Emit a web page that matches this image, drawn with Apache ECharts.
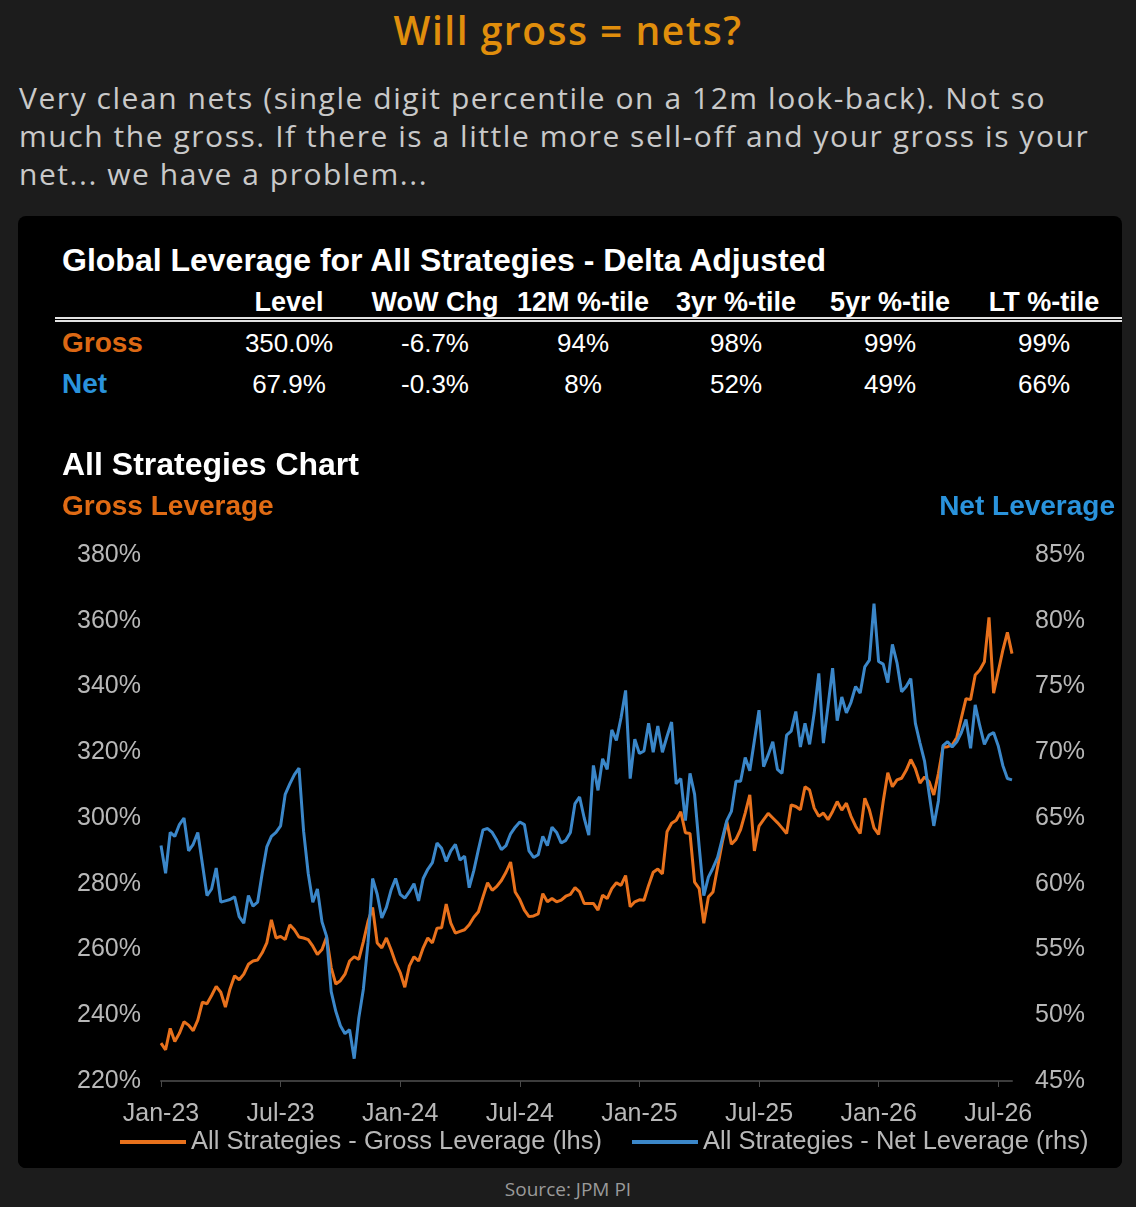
<!DOCTYPE html>
<html>
<head>
<meta charset="utf-8">
<script src="https://cdn.jsdelivr.net/npm/echarts@6/dist/echarts.min.js"></script>
<style>
body{margin:0;background:#1c1c1c;width:1136px;height:1207px;overflow:hidden;position:relative;font-family:'Open Sans',sans-serif;}
#head{position:absolute;left:0;top:10px;width:1136px;text-align:center;color:#e08e0c;font-size:39px;line-height:39px;font-weight:600;letter-spacing:1.5px;}
#intro{position:absolute;left:19px;top:79px;color:#c9c9c9;font-size:30px;line-height:38px;white-space:nowrap;letter-spacing:1.55px;}
#panel{position:absolute;left:18px;top:216px;width:1104px;height:952px;background:#000;border-radius:8px;overflow:hidden;}
.t{position:absolute;font-family:'Liberation Sans',Arial,sans-serif;white-space:nowrap;color:#fff;}
.c{transform:translate(-50%,-50%);}
.l{transform:translate(0,-50%);}
#rule{position:absolute;left:37px;right:0;top:101px;height:1px;border-top:2px solid #e2e2e2;border-bottom:2px solid #e2e2e2;}
#chart{position:absolute;left:0;top:224px;width:1104px;height:728px;}
#src{position:absolute;left:0;top:1178px;width:1136px;text-align:center;color:#9a9a9a;font-size:19px;line-height:22px;}
</style>
</head>
<body>
<div id="head">Will gross = nets?</div>
<div id="intro">Very clean nets (single digit percentile on a 12m look-back). Not so<br>much the gross. If there is a little more sell-off and your gross is your<br>net... we have a problem...</div>
<div id="panel">
  <div id="table"></div>
  <div id="rule"></div>
  <div id="chart"></div>
</div>
<div id="src">Source: JPM PI</div>
<script>
// 表格数据
var tableHeads = ['Level', 'WoW Chg', '12M %-tile', '3yr %-tile', '5yr %-tile', 'LT %-tile'];
var grossStats = ['350.0%', '-6.7%', '94%', '98%', '99%', '99%'];
var netStats = ['67.9%', '-0.3%', '8%', '52%', '49%', '66%'];

// 周度数据, 从 2023-01-06 开始
var grossLev = [
    231.5, 229.5, 236.0, 232.0, 234.5, 238.0, 237.0, 235.3, 238.5, 244.0,
    243.5, 246.0, 248.8, 247.0, 242.5, 248.0, 252.0, 250.8, 252.5, 255.5,
    256.5, 256.8, 259.0, 262.0, 269.0, 263.5, 264.0, 263.0, 267.5, 266.0,
    263.8, 263.5, 263.0, 261.0, 258.5, 260.0, 263.8, 254.5, 249.5, 250.5,
    252.5, 256.5, 257.8, 257.0, 262.4, 268.5, 272.8, 262.0, 260.5, 263.5,
    260.0, 256.0, 253.0, 248.5, 255.0, 257.8, 256.5, 260.5, 263.5, 262.0,
    266.5, 266.6, 273.8, 268.0, 265.0, 265.5, 266.0, 267.5, 269.8, 271.5,
    276.0, 280.3, 278.0, 279.2, 281.0, 283.5, 286.6, 277.5, 275.2, 272.0,
    270.0, 270.2, 270.8, 277.0, 274.5, 275.5, 274.5, 275.0, 276.2, 276.8,
    278.8, 277.5, 274.0, 274.0, 274.0, 272.0, 276.5, 275.5, 278.5, 280.3,
    279.5, 282.5, 273.0, 274.5, 275.1, 275.0, 279.5, 283.5, 284.5, 283.0,
    295.8, 298.4, 299.3, 301.9, 295.5, 295.3, 280.5, 278.5, 268.0, 276.0,
    277.5, 285.0, 292.5, 298.9, 292.0, 293.5, 296.5, 301.5, 307.0, 290.0,
    297.5, 299.5, 301.4, 300.0, 298.6, 297.0, 295.3, 304.0, 303.5, 302.5,
    309.5, 308.5, 303.0, 300.5, 301.5, 299.5, 302.0, 305.0, 302.4, 304.5,
    300.5, 297.5, 295.3, 306.0, 302.5, 297.0, 295.0, 305.0, 313.8, 309.5,
    311.6, 312.1, 314.5, 317.8, 315.0, 310.6, 312.5, 311.0, 307.0, 313.5,
    321.5, 321.7, 322.2, 324.5, 330.5, 336.3, 336.0, 343.5, 345.0, 347.5,
    361.0, 338.0, 344.5, 351.0, 356.5, 350.0
];
var netLev = [
    62.9, 60.8, 63.9, 63.6, 64.5, 65.0, 62.5, 63.0, 63.9, 61.5,
    59.1, 59.6, 61.2, 58.6, 58.7, 58.8, 59.0, 57.5, 57.0, 59.1,
    58.3, 58.6, 60.8, 62.8, 63.6, 63.9, 64.4, 66.8, 67.6, 68.3,
    68.8, 64.0, 60.8, 58.6, 59.6, 57.1, 56.0, 51.8, 50.3, 49.2,
    48.6, 48.9, 46.7, 49.8, 52.0, 55.5, 60.4, 59.2, 57.4, 58.2,
    59.5, 60.4, 59.2, 58.9, 59.4, 60.0, 58.7, 60.4, 61.1, 61.6,
    63.1, 62.7, 61.7, 62.5, 63.0, 61.8, 62.1, 59.7, 61.0, 62.6,
    64.1, 64.2, 63.9, 63.3, 62.6, 62.9, 63.8, 64.3, 64.7, 64.5,
    62.5, 62.0, 62.2, 63.6, 62.9, 64.3, 63.9, 63.1, 63.3, 63.9,
    66.1, 66.6, 65.0, 63.7, 69.0, 67.1, 69.5, 68.7, 71.7, 70.9,
    72.6, 74.7, 68.0, 71.0, 69.9, 70.1, 72.2, 70.0, 72.0, 70.0,
    71.2, 72.3, 67.6, 68.0, 64.8, 68.4, 66.8, 62.8, 59.1, 60.5,
    61.2, 62.0, 63.4, 64.8, 65.5, 67.8, 67.8, 69.6, 68.6, 70.9,
    73.2, 68.9, 69.8, 70.8, 68.7, 68.4, 71.3, 71.6, 73.1, 70.4,
    72.2, 70.6, 73.0, 76.0, 70.7, 73.5, 76.4, 72.4, 74.2, 73.0,
    73.8, 75.0, 74.5, 76.5, 77.0, 81.3, 76.9, 76.7, 75.3, 78.2,
    76.8, 74.6, 75.0, 75.6, 72.2, 70.7, 69.3, 66.8, 64.4, 66.3,
    70.5, 70.8, 70.4, 70.8, 71.5, 72.5, 70.3, 73.6, 72.0, 70.6,
    71.3, 71.5, 70.5, 69.0, 68.0, 67.9
];
var monthNames = ['Jan', 'Feb', 'Mar', 'Apr', 'May', 'Jun', 'Jul', 'Aug', 'Sep', 'Oct', 'Nov', 'Dec'];

var weekDates = [];
var firstWeek = Date.UTC(2023, 0, 6);
for (var i = 0; i < grossLev.length; i++) {
    weekDates.push(new Date(firstWeek + i * 7 * 864e5).toISOString().slice(0, 10));
}

// 画表格
var colX = [271, 417, 565, 718, 872, 1026];
var tbl = document.getElementById('table');
function addText(txt, x, y, cls, css) {
    var d = document.createElement('div');
    d.className = 't ' + cls;
    d.textContent = txt;
    d.style.left = x + 'px';
    d.style.top = y + 'px';
    for (var k in css) d.style[k] = css[k];
    tbl.appendChild(d);
}
addText('Global Leverage for All Strategies - Delta Adjusted', 44, 44, 'l', {fontSize: '32px', fontWeight: 'bold'});
addText('Gross', 44, 127, 'l', {fontSize: '28px', fontWeight: 'bold', color: '#dc6814'});
addText('Net', 44, 168, 'l', {fontSize: '28px', fontWeight: 'bold', color: '#2a93dc'});
for (var j = 0; j < tableHeads.length; j++) {
    addText(tableHeads[j], colX[j], 86, 'c', {fontSize: '27px', fontWeight: 'bold'});
    addText(grossStats[j], colX[j], 127, 'c', {fontSize: '26px'});
    addText(netStats[j], colX[j], 168, 'c', {fontSize: '26px'});
}

var isHalfYear = function (idx, val) {
    var m = +val.slice(5, 7), d = +val.slice(8, 10);
    return (m === 1 || m === 7) && d <= 7;
};

var chart = echarts.init(document.getElementById('chart'));
chart.setOption({
    animation: false,
    backgroundColor: '#000',
    textStyle: {fontFamily: 'Liberation Sans, Arial, sans-serif'},
    title: [
        {text: 'All Strategies Chart', left: 44, top: 10, padding: 0,
            textStyle: {color: '#fff', fontSize: 32, fontWeight: 'bold'}},
        {text: 'Gross Leverage', left: 44, top: 53, padding: 0,
            textStyle: {color: '#e06b14', fontSize: 28, fontWeight: 'bold'}},
        {text: 'Net Leverage', right: 7, top: 53, padding: 0,
            textStyle: {color: '#2a93dc', fontSize: 28, fontWeight: 'bold'}}
    ],
    legend: {
        left: 102, top: 689, padding: 0,
        icon: 'rect', itemWidth: 66, itemHeight: 4, itemGap: 30,
        textStyle: {color: '#b8b8b8', fontSize: 25.5}
    },
    grid: {left: 143, right: 110, top: 115, bottom: 87},
    xAxis: {
        type: 'category',
        data: weekDates,
        boundaryGap: false,
        axisLine: {lineStyle: {color: '#3c3c3c', width: 2}},
        axisTick: {interval: isHalfYear, length: 6, lineStyle: {color: '#4a4a4a'}},
        axisLabel: {
            interval: isHalfYear, color: '#b8b8b8', fontSize: 25, margin: 21,
            formatter: function (val) {
                return monthNames[+val.slice(5, 7) - 1] + '-' + val.slice(2, 4);
            }
        }
    },
    yAxis: [
        {
            type: 'value', min: 220, max: 380, interval: 20,
            splitLine: {show: false}, axisLine: {show: false}, axisTick: {show: false},
            axisLabel: {formatter: '{value}%', color: '#b8b8b8', fontSize: 25, margin: 20}
        },
        {
            type: 'value', min: 45, max: 85, interval: 5, position: 'right',
            splitLine: {show: false}, axisLine: {show: false}, axisTick: {show: false},
            axisLabel: {formatter: '{value}%', color: '#b8b8b8', fontSize: 25, margin: 23}
        }
    ],
    series: [
        {
            name: 'All Strategies - Gross Leverage (lhs)', type: 'line', yAxisIndex: 0,
            data: grossLev, showSymbol: false,
            lineStyle: {color: '#e8711c', width: 3}, itemStyle: {color: '#e8711c'}
        },
        {
            name: 'All Strategies - Net Leverage (rhs)', type: 'line', yAxisIndex: 1,
            data: netLev, showSymbol: false,
            lineStyle: {color: '#3b87c9', width: 3}, itemStyle: {color: '#3b87c9'}
        }
    ]
});
</script>
</body>
</html>
